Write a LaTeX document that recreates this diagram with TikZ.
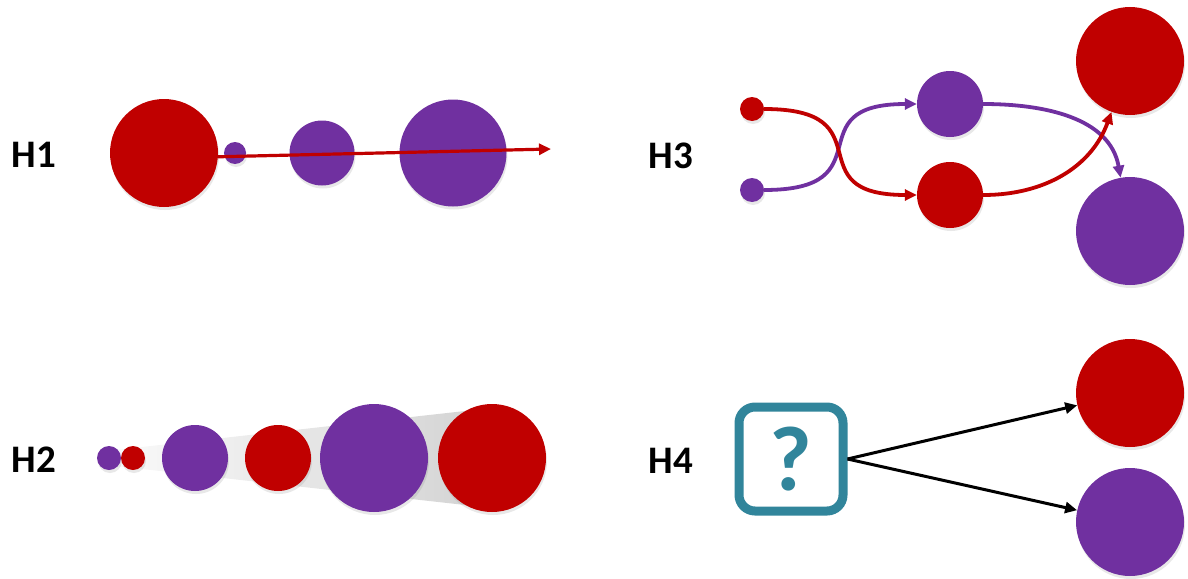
\documentclass[tikz,border=0pt]{standalone}
\usepackage{fontspec}
\setmainfont{Carlito}
\usepackage{tikz}
\usetikzlibrary{arrows.meta,shadows,positioning}
\definecolor{hred}{RGB}{192,0,0}
\definecolor{hpurple}{RGB}{112,48,160}
\definecolor{hteal}{RGB}{49,133,155}

\begin{document}
\begin{tikzpicture}[x=1pt, y=-1pt, >={Triangle[length=12pt,width=11pt]},
ball/.style={circle, inner sep=0pt, minimum size=#1,
drop shadow={opacity=0.18, shadow xshift=1pt, shadow yshift=-3pt}},
rball/.style={ball=#1, fill=hred},
pball/.style={ball=#1, fill=hpurple},
hname/.style={font=\fontsize{39}{40}\selectfont\bfseries},
qbox/.style={draw=hteal, line width=9pt, rounded corners=16pt, fill=white,
minimum size=104pt, inner sep=0pt, text=hteal, font=\fontsize{92}{92}\selectfont\bfseries,
drop shadow={opacity=0.18, shadow xshift=1pt, shadow yshift=-3pt}}]
\useasboundingbox (0,0) rectangle (1188,578);

\node [hname] (h_1) at (34,155) {H1};
\node [hname] (h_2) at (34,460) {H2};
\node [hname] (h_3) at (671,156) {H3};
\node [hname] (h_4) at (671,461) {H4};

\node [rball=108pt] (h1_r) at (164,153) {};
\node [pball=22pt] (h1_a) at (235,153) {};
\node [pball=65pt] (h1_b) at (322,153) {};
\node [pball=107pt] (h1_c) at (453,153) {};
\coordinate (h1_end) at (551,149);
\draw [->, hred, line width=3.2pt] (h1_r.-4) -- (h1_end);

\shade [left color=gray!4, right color=gray!35] (115,450) -- (492,408) -- (492,508) -- (115,466) -- cycle;
\node [pball=24pt] (h2_a) at (109,458) {};
\node [rball=24pt] (h2_b) at (133,458) {};
\node [pball=66pt] (h2_c) at (195,458) {};
\node [rball=66pt] (h2_d) at (278,458) {};
\node [pball=108pt] (h2_e) at (374,458) {};
\node [rball=108pt] (h2_f) at (492,458) {};

\node [rball=24pt] (h3_sr) at (752,109) {};
\node [pball=24pt] (h3_sp) at (752,190) {};
\node [pball=66pt] (h3_mp) at (950,104) {};
\node [rball=66pt] (h3_mr) at (950,195) {};
\node [rball=108pt] (h3_br) at (1130,61) {};
\node [pball=108pt] (h3_bp) at (1130,231) {};
\path [->, line width=3.8pt]
(h3_sp) edge [hpurple, out=0, in=180, looseness=1.8] (h3_mp)
(h3_sr) edge [hred, out=0, in=180, looseness=1.8] (h3_mr)
(h3_mp) edge [hpurple, out=0, in=100] (h3_bp)
(h3_mr) edge [hred, out=0, in=-110] (h3_br);

\node [qbox] (h4_q) at (791,459) {?};
\node [rball=108pt] (h4_r) at (1130,393) {};
\node [pball=108pt] (h4_p) at (1130,522) {};
\path [->, line width=3pt]
(h4_q.east) edge (h4_r)
edge (h4_p);
\end{tikzpicture}
\end{document}
